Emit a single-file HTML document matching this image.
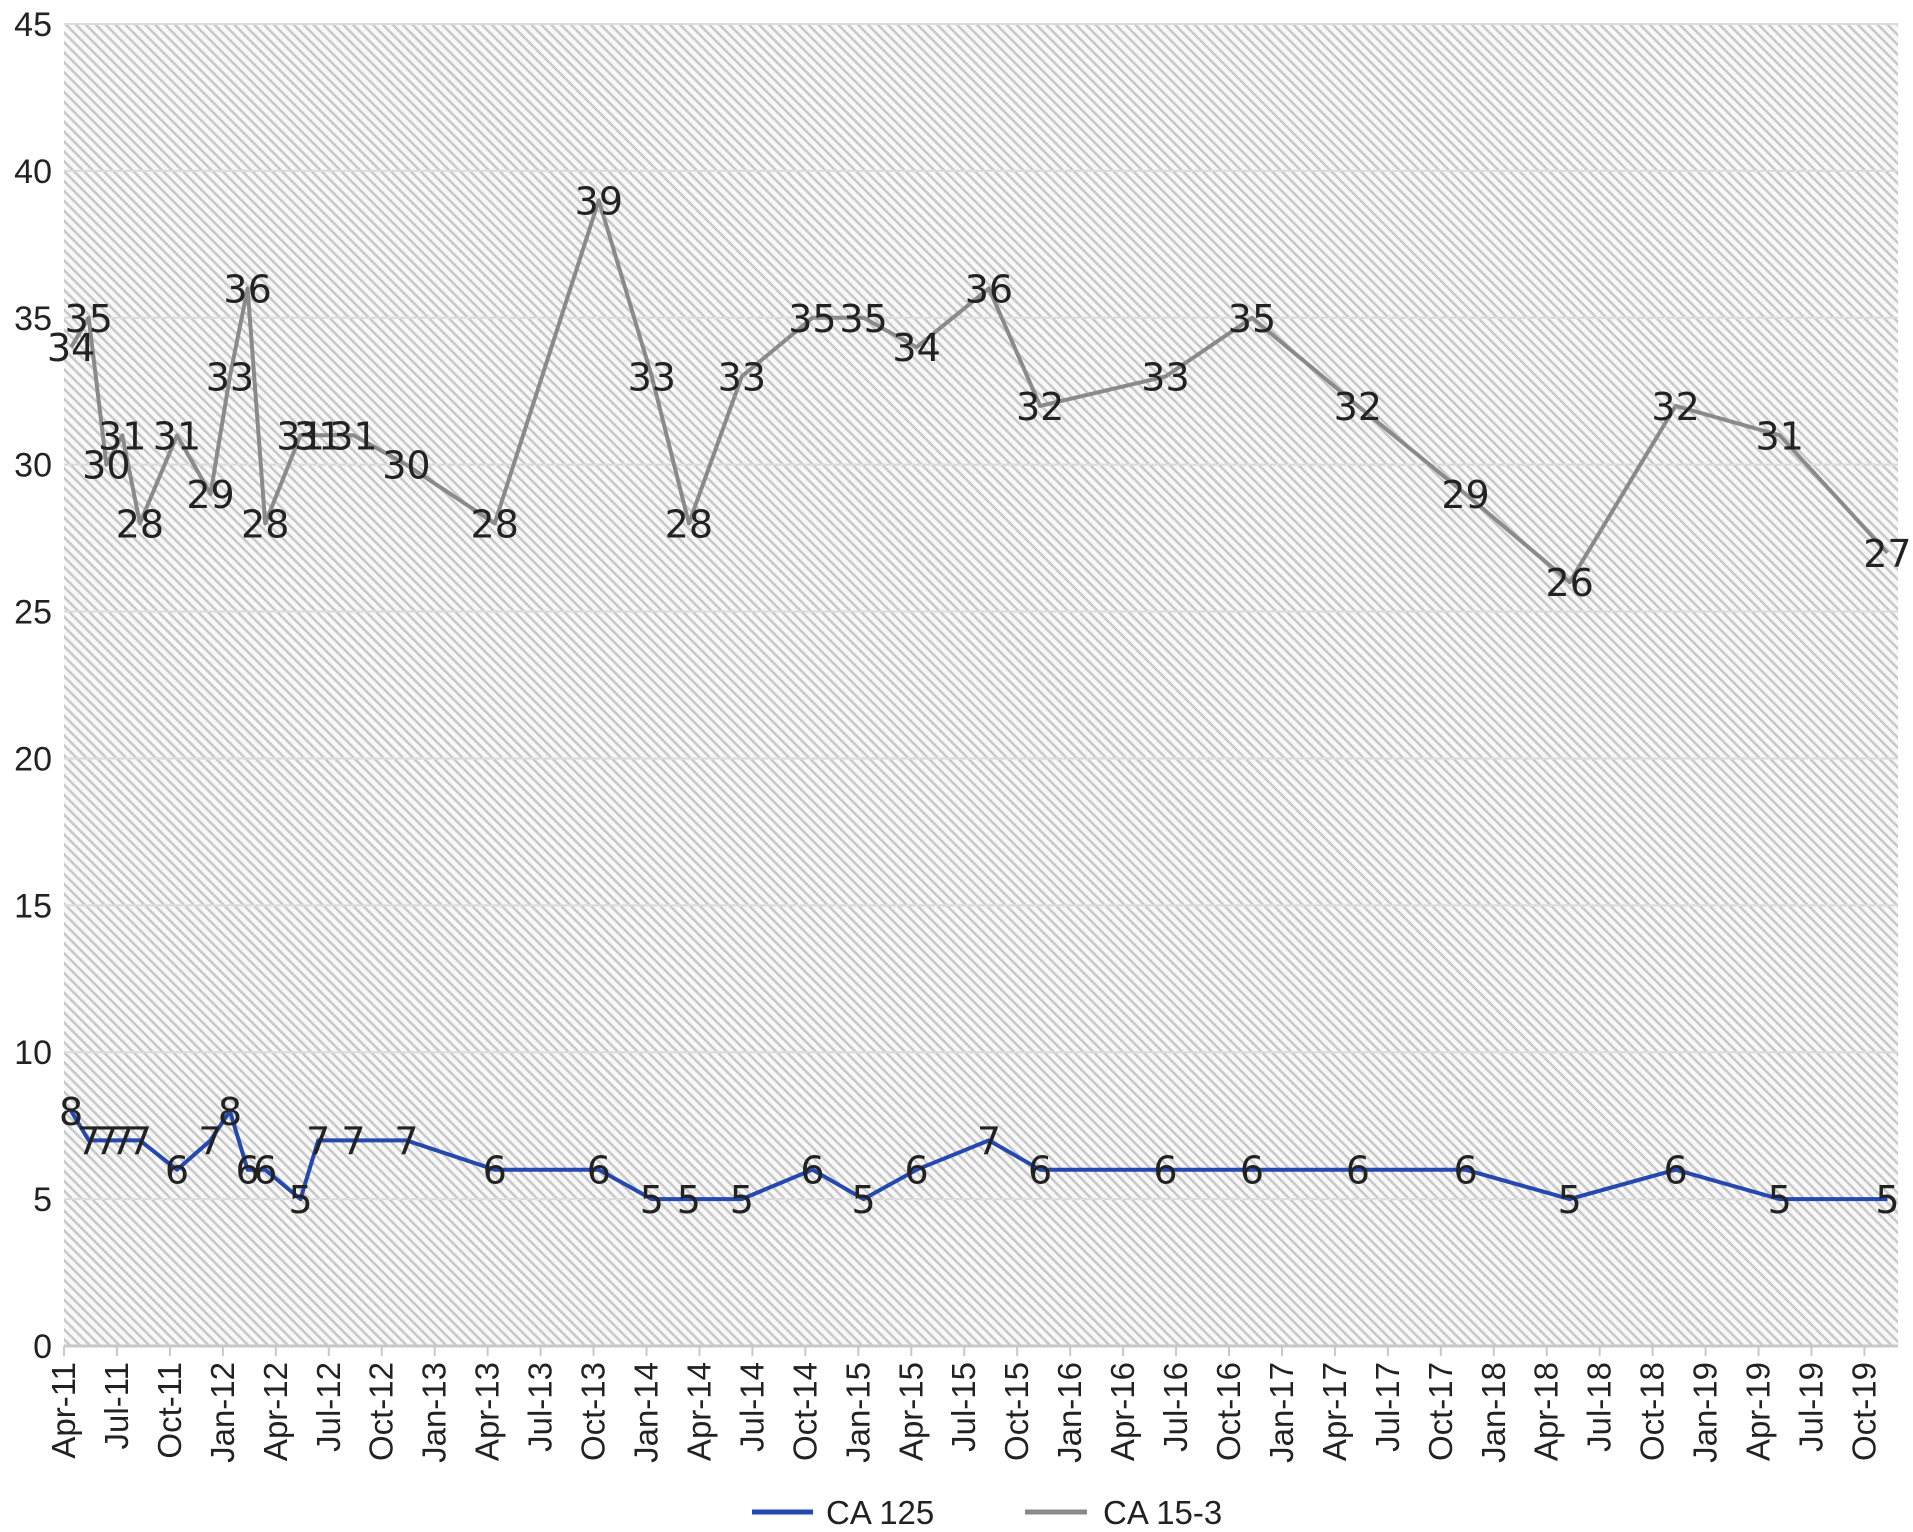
<!DOCTYPE html>
<html><head><meta charset="utf-8"><style>
body{margin:0;background:#fff;}
svg{display:block;font-family:"Liberation Sans",sans-serif;}
</style></head><body>
<svg id="chart" width="1913" height="1532" viewBox="0 0 1913 1532">
<defs>
<pattern id="hatch" patternUnits="userSpaceOnUse" width="7" height="7" patternTransform="rotate(-45)">
<rect width="7" height="7" fill="#f8f8f8"/>
<rect x="0" y="0" width="2.5" height="7" fill="#c8c8c8"/>
</pattern>
</defs>
<g id="plot"></g>
</svg>
<script>
// months since Apr-2011
const months = [0.4,1.4,2.4,3.3,4.3,6.4,8.3,9.4,10.4,11.4,13.4,14.4,16.4,19.4,24.4,30.3,33.3,35.4,38.4,42.4,45.3,48.3,52.4,55.3,62.4,67.3,73.3,79.4,85.3,91.3,97.2,103.3];
const ca125 = [8,7,7,7,7,6,7,8,6,6,5,7,7,7,6,6,5,5,5,6,5,6,7,6,6,6,6,6,5,6,5,5];
const ca153 = [34,35,30,31,28,31,29,33,36,28,31,31,31,30,28,39,33,28,33,35,35,34,36,32,33,35,32,29,26,32,31,27];
const yTicks = [0,5,10,15,20,25,30,35,40,45];
const xTickLabels = ["Apr-11","Jul-11","Oct-11","Jan-12","Apr-12","Jul-12","Oct-12","Jan-13","Apr-13","Jul-13","Oct-13","Jan-14","Apr-14","Jul-14","Oct-14","Jan-15","Apr-15","Jul-15","Oct-15","Jan-16","Apr-16","Jul-16","Oct-16","Jan-17","Apr-17","Jul-17","Oct-17","Jan-18","Apr-18","Jul-18","Oct-18","Jan-19","Apr-19","Jul-19","Oct-19"];

const L=64,R=1898,T=24,B=1346,xMax=103.9,yMax=45;
const xs=m=>L+m/xMax*(R-L);
const ys=v=>B-v/yMax*(B-T);
const NS="http://www.w3.org/2000/svg";
const g=document.getElementById('plot');
function mk(tag,attrs,parent){const e=document.createElementNS(NS,tag);for(const k in attrs)e.setAttribute(k,attrs[k]);(parent||g).appendChild(e);return e;}

const bg=mk('rect',{x:L,y:T,width:R-L,height:B-T,fill:'url(#hatch)'});



yTicks.forEach(v=>{
  const ln=mk('line',{x1:L,x2:R,y1:ys(v),y2:ys(v),stroke:'#dcdcdc','stroke-width':2});
  
  
  const t=mk('text',{x:L-12,y:ys(v)+12,'text-anchor':'end','font-size':34,fill:'#222'});
  t.textContent=v;
  
  
});
const ax=mk('line',{x1:L,x2:R,y1:B,y2:B,stroke:'#c8c8c8','stroke-width':3});



xTickLabels.forEach((lab,i)=>{
  const x=xs(i*3);
  const tk=mk('line',{x1:x,x2:x,y1:B,y2:B+10,stroke:'#c8c8c8','stroke-width':2});
  
  
  const t=mk('text',{x:0,y:0,'text-anchor':'end','font-size':33,fill:'#222',transform:`translate(${x+11},${B+16}) rotate(-90)`});
  t.textContent=lab;
  
  
});

function series(vals,color,name){
  const pts=vals.map((v,i)=>xs(months[i]).toFixed(1)+','+ys(v).toFixed(1)).join(' ');
  const pl=mk('polyline',{points:pts,fill:'none',stroke:color,'stroke-width':4,'stroke-linejoin':'round'});
  
  
  vals.forEach((v,i)=>{
    const t=mk('text',{x:xs(months[i]),y:ys(v)+14,'text-anchor':'middle','font-size':38,fill:'#222','font-family':'DejaVu Sans, sans-serif'});
    t.textContent=v;
    
    
  });
}
series(ca153,'#8a8a8a','ca153');
series(ca125,'#2447b0','ca125');

const l1=mk('line',{x1:752,x2:813,y1:1512,y2:1512,stroke:'#2447b0','stroke-width':5});


const lt1=mk('text',{x:826,y:1524,'font-size':33,fill:'#222'});
lt1.textContent='CA 125';


const l2=mk('line',{x1:1025,x2:1087,y1:1512,y2:1512,stroke:'#8a8a8a','stroke-width':5});


const lt2=mk('text',{x:1103,y:1524,'font-size':33,fill:'#222'});
lt2.textContent='CA 15-3';


</script>
</body></html>
